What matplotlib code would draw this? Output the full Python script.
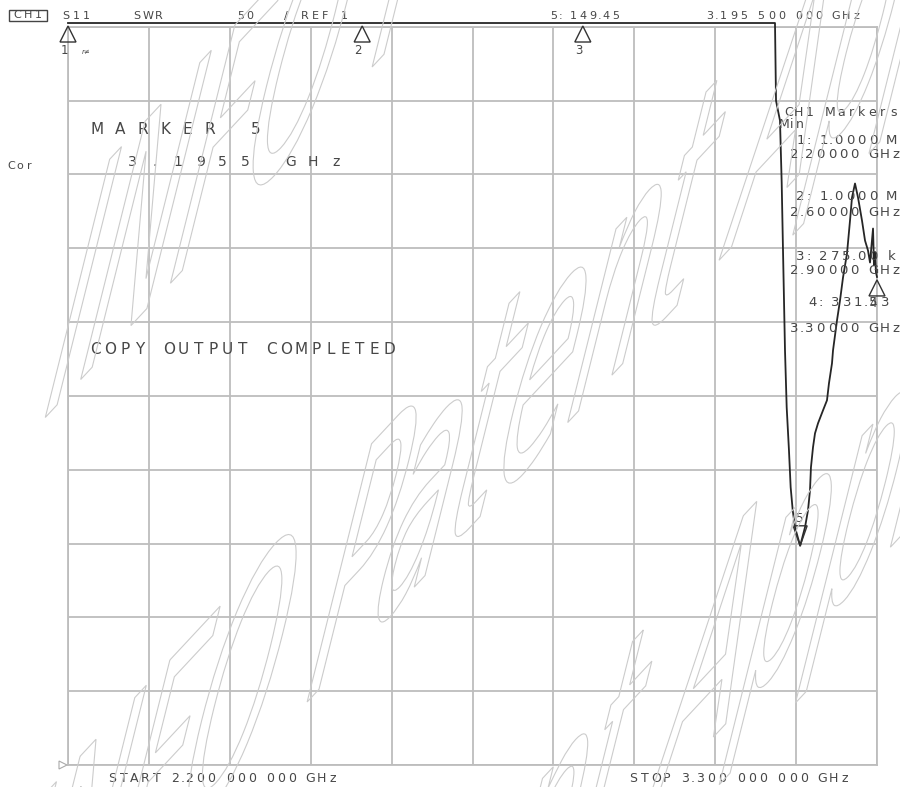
import numpy as np
import matplotlib
matplotlib.use('Agg')
import matplotlib.pyplot as plt
from matplotlib.transforms import Affine2D
from matplotlib.patches import Polygon, PathPatch, Rectangle
from matplotlib.textpath import TextPath
from matplotlib.font_manager import FontProperties

W, H = 900, 787

# =========================
# Data (S11 SWR sweep)
# =========================
f_start, f_stop = 2.2, 3.3          # GHz
ref_val, per_div = 1, 50            # SWR, 50 / div, ref 1 at bottom

freq = [2.2, 2.6, 2.9, 3.1613, 3.1627, 3.1681, 3.1704, 3.1722, 3.1749,
        3.1772, 3.1803, 3.1826, 3.1854, 3.1885, 3.1955, 3.2021, 3.2062,
        3.2089, 3.2102, 3.2130, 3.2157, 3.2198, 3.2266, 3.2320, 3.2347,
        3.2388, 3.2402, 3.2456, 3.2497, 3.2538, 3.2592, 3.2633, 3.2660,
        3.2701, 3.2742, 3.2796, 3.2837, 3.2878, 3.2905, 3.2946, 3.2959,
        3.2973, 3.2986, 3.3]
swr = [1e6, 1e6, 275e3, 1e6, 450.9, 437.4, 395.5, 349.4, 281.8,
       243.2, 214.1, 189.1, 173.5, 162.0, 149.45, 162.0, 173.5,
       187.1, 202.6, 216.2, 225.6, 232.4, 241.2, 248.0, 259.5,
       273.0, 281.8, 302.1, 315.6, 331.2, 347.4, 369.7, 385.3,
       394.8, 385.3, 369.7, 356.2, 349.4, 341.3, 364.3, 339.3,
       348.1, 334.6, 331.53]

mk_num = ['1', '2', '3', '4', '5']
mk_freq = [2.2, 2.6, 2.9, 3.3, 3.1955]
mk_val = [1e6, 1e6, 275e3, 331.53, 149.45]
active = '5'

txt_col = '#474747'
grid_col = '#bdbdbd'


def fmt_val(v):
    if v >= 1e6:
        return f"{v / 1e6:.4f} M"
    if v >= 1e3:
        return f"{v / 1e3:.2f} k"
    return f"{v:.2f}"


fig = plt.figure(figsize=(W / 100, H / 100), dpi=100)
ax = fig.add_axes([68 / W, (H - 765) / H, (877 - 68) / W, (765 - 26.7) / H])
px = Affine2D().scale(1 / W, -1 / H).translate(0, 1) + fig.transFigure

y_top = ref_val + 10 * per_div
ax.set_xlim(f_start, f_stop)
ax.set_ylim(ref_val, y_top)
ax.set_xticks(np.linspace(f_start, f_stop, 11))
ax.set_yticks(np.linspace(ref_val, y_top, 11))
ax.tick_params(length=0, labelbottom=False, labelleft=False)
ax.grid(True, color=grid_col, linewidth=1.3)
for sp in ax.spines.values():
    sp.set_color(grid_col)
    sp.set_linewidth(1.3)
ax.patch.set_facecolor('none')

# trace, off-scale values drawn just above the top line
clamp = y_top + 2.5
ax.plot(freq, np.minimum(swr, clamp), color='#262626', linewidth=1.3,
        clip_on=False, zorder=5)


def to_px(f, v):
    dx, dy = ax.transData.transform((f, min(v, clamp)))
    return dx, H - dy


def spaced(s, x, y, pitch, size, prop=False):
    # instrument style lettering: one cell per character
    pos = x
    for ch in s:
        w = 1.0
        if prop:
            w = 0.33 if ch in '.:' else (0.67 if ch == ' ' else 1.0)
        if ch != ' ':
            fig.text(pos + w * pitch / 2, y, ch, transform=px, ha='center',
                     va='center', fontsize=size, color=txt_col)
        pos += w * pitch


# markers
for n, f, v in zip(mk_num, mk_freq, mk_val):
    mx, my = to_px(f, v)
    if n == active:
        tri = [(mx, my), (mx - 7, my - 20), (mx + 7, my - 20)]
        lab = (mx - 1, my - 27)
    else:
        tri = [(mx, my + 3), (mx - 8, my + 19), (mx + 8, my + 19)]
        lab = (mx - 4, my + 27)
    fig.add_artist(Polygon(tri, closed=True, fill=False, edgecolor='#333333',
                           linewidth=1.0, transform=px, zorder=6))
    fig.text(lab[0], lab[1], n, transform=px, ha='center', va='center',
             fontsize=8.5, color=txt_col)
fig.text(86, 52, 'r≠', transform=px, ha='center', va='center',
         fontsize=5, color=txt_col, style='italic')

# reference position pointer
rx, ry = to_px(f_start, ref_val)
fig.add_artist(Polygon([(rx - 1, ry), (rx - 9, ry - 4), (rx - 9, ry + 4)],
                       closed=True, fill=False, edgecolor='#aaaaaa',
                       linewidth=0.8, transform=px))

# header line
fig.add_artist(Rectangle((9, 10), 38, 11, fill=False, edgecolor='#444444',
                         linewidth=1.0, transform=px))
spaced('CH1', 12, 15.5, 10.5, 8)
spaced('S11', 61, 16, 10, 8)
spaced('SWR', 132, 16, 10.5, 8)
spaced(f'{per_div}', 236.5, 16, 9, 8)
spaced(f'/ REF {ref_val}', 281, 16, 9.7, 8)
i5 = mk_num.index(active)
spaced(f'{active}: {mk_val[i5]:.2f}', 549, 16, 9.7, 8, prop=True)
f5 = f"{mk_freq[i5]:.9f}"
spaced(f"{f5[:5]} {f5[5:8]} {f5[8:]} GHz", 705, 16, 10.2, 8, prop=True)

# left annotations
spaced('Cor', 6.5, 166, 9, 8)
spaced(f'MARKER {active}', 86, 130, 22.6, 11)
spaced(f'{mk_freq[i5]:.4f} GHz', 121, 162, 22.6, 10)
spaced('COPY OUTPUT COMPLETED', 88, 350, 14.7, 11)

# marker table
spaced('CH1 Markers', 783, 112, 10.5, 9)
spaced('Min', 780, 125, 8, 9)
table_y = [(140, 154), (196, 213), (257, 271), (303, 328)]
table_x = [795, 795, 795, 807]
for k in range(4):
    spaced(f'{mk_num[k]}: {fmt_val(mk_val[k])}', table_x[k], table_y[k][0],
           11.4, 9.5, prop=True)
    spaced(f'{mk_freq[k]:.5f} GHz', 789, table_y[k][1], 11.2, 9.5, prop=True)

# start / stop
spaced(f'START {f_start:.3f} 000 000 GHz', 107, 779, 11, 9, prop=True)
spaced(f'STOP {f_stop:.3f} 000 000 GHz', 628, 779, 11.1, 9, prop=True)

# watermark outlines
wm_text = 'INFO Patent Application'
wm_fp = FontProperties(family='DejaVu Sans')
a, c = 176, 365
th, ph = np.radians(47), np.radians(76)
M = Affine2D(np.array([[a * np.cos(th), c * np.cos(ph), 0],
                       [a * np.sin(th), c * np.sin(ph), 0],
                       [0, 0, 1]]))
to_fig = Affine2D().scale(1 / W, 1 / H) + fig.transFigure
for (wx, wy, pre) in [(360, 80, 2.72), (295, 715, 2.72), (650, 805, 6.29)]:
    ox = wx - pre * a * np.cos(th)
    oy = (H - wy) - pre * a * np.sin(th)
    tp = TextPath((0, 0), wm_text, size=1, prop=wm_fp)
    fig.add_artist(PathPatch(tp, transform=M + Affine2D().translate(ox, oy) + to_fig,
                             facecolor='none', edgecolor='#cccccc',
                             linewidth=0.8, zorder=7))

plt.savefig('out.png', dpi=100)
